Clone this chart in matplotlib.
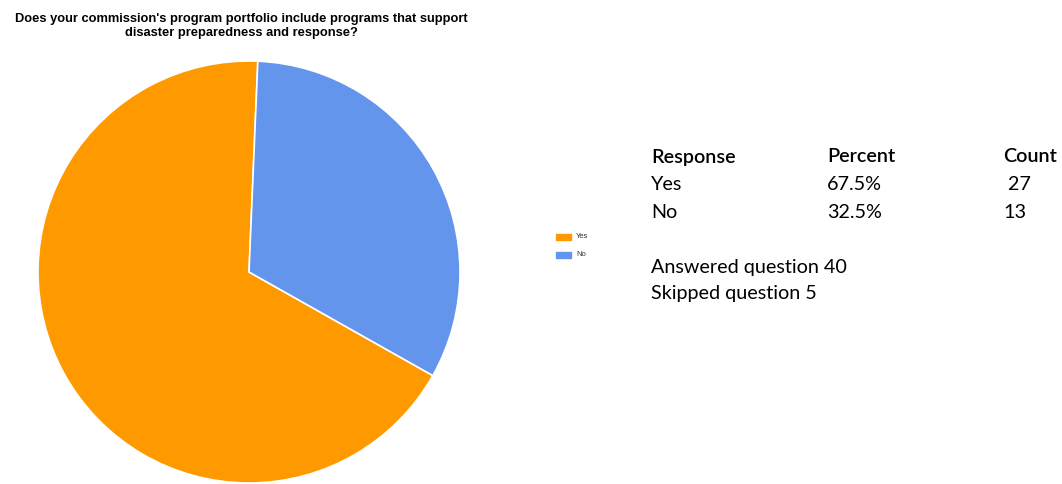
import matplotlib.pyplot as plt

labels = ['Yes', 'No']
percents = [67.5, 32.5]
counts = [27, 13]
answered = 40
skipped = 5
colors = ['#FF9900', '#6495ED']

W, H = 1062, 484
fig = plt.figure(figsize=(W / 100, H / 100), dpi=100)

# pie axes placed in pixel terms
ax = fig.add_axes([38 / W, 1 / H, 422 / W, 422 / H])
wedges, _ = ax.pie(percents, colors=colors, startangle=87.6, counterclock=True,
                   wedgeprops=dict(edgecolor='white', linewidth=1.2))
ax.set_xlim(-1.0, 1.0)
ax.set_ylim(-1.0, 1.0)
ax.set_aspect('equal')

fig.text(241 / W, 1 - 26 / H,
         "Does your commission's program portfolio include programs that support\n"
         "disaster preparedness and response?",
         ha='center', va='center', fontsize=9.3, fontweight='bold',
         family='Liberation Sans', linespacing=1.3)

# small legend
for i, lab in enumerate(labels):
    y = 1 - (237 + 18 * i) / H
    fig.patches.append(plt.Rectangle((556 / W, y - 3 / H), 15 / W, 6 / H,
                                     transform=fig.transFigure, color=colors[i]))
    fig.text(576 / W, y, lab, fontsize=5.5, va='center', ha='left',
             family='Liberation Sans', color='#333333')

# response table
tfont = dict(family='Lato', fontsize=14.2, color='black', va='center')
cols = [651, 827, 1003]
fig.text(cols[0] / W, 1 - 157 / H, 'Response', fontweight='semibold', **tfont)
fig.text(cols[1] / W, 1 - 157 / H, 'Percent', fontweight='semibold', **tfont)
fig.text(cols[2] / W, 1 - 157 / H, 'Count', fontweight='semibold', **tfont)
for i, lab in enumerate(labels):
    y = 1 - (185 + 27 * i) / H
    fig.text(cols[0] / W, y, lab, **tfont)
    fig.text(cols[1] / W, y, f'{percents[i]:.1f}%', **tfont)
    fig.text(cols[2] / W, y, (' ' if i == 0 else '') + str(counts[i]), **tfont)

fig.text(cols[0] / W, 1 - 267 / H, f'Answered question {answered}', **tfont)
fig.text(cols[0] / W, 1 - 293 / H, f'Skipped question {skipped}', **tfont)

fig.savefig('out.png', dpi=100, facecolor='white')
